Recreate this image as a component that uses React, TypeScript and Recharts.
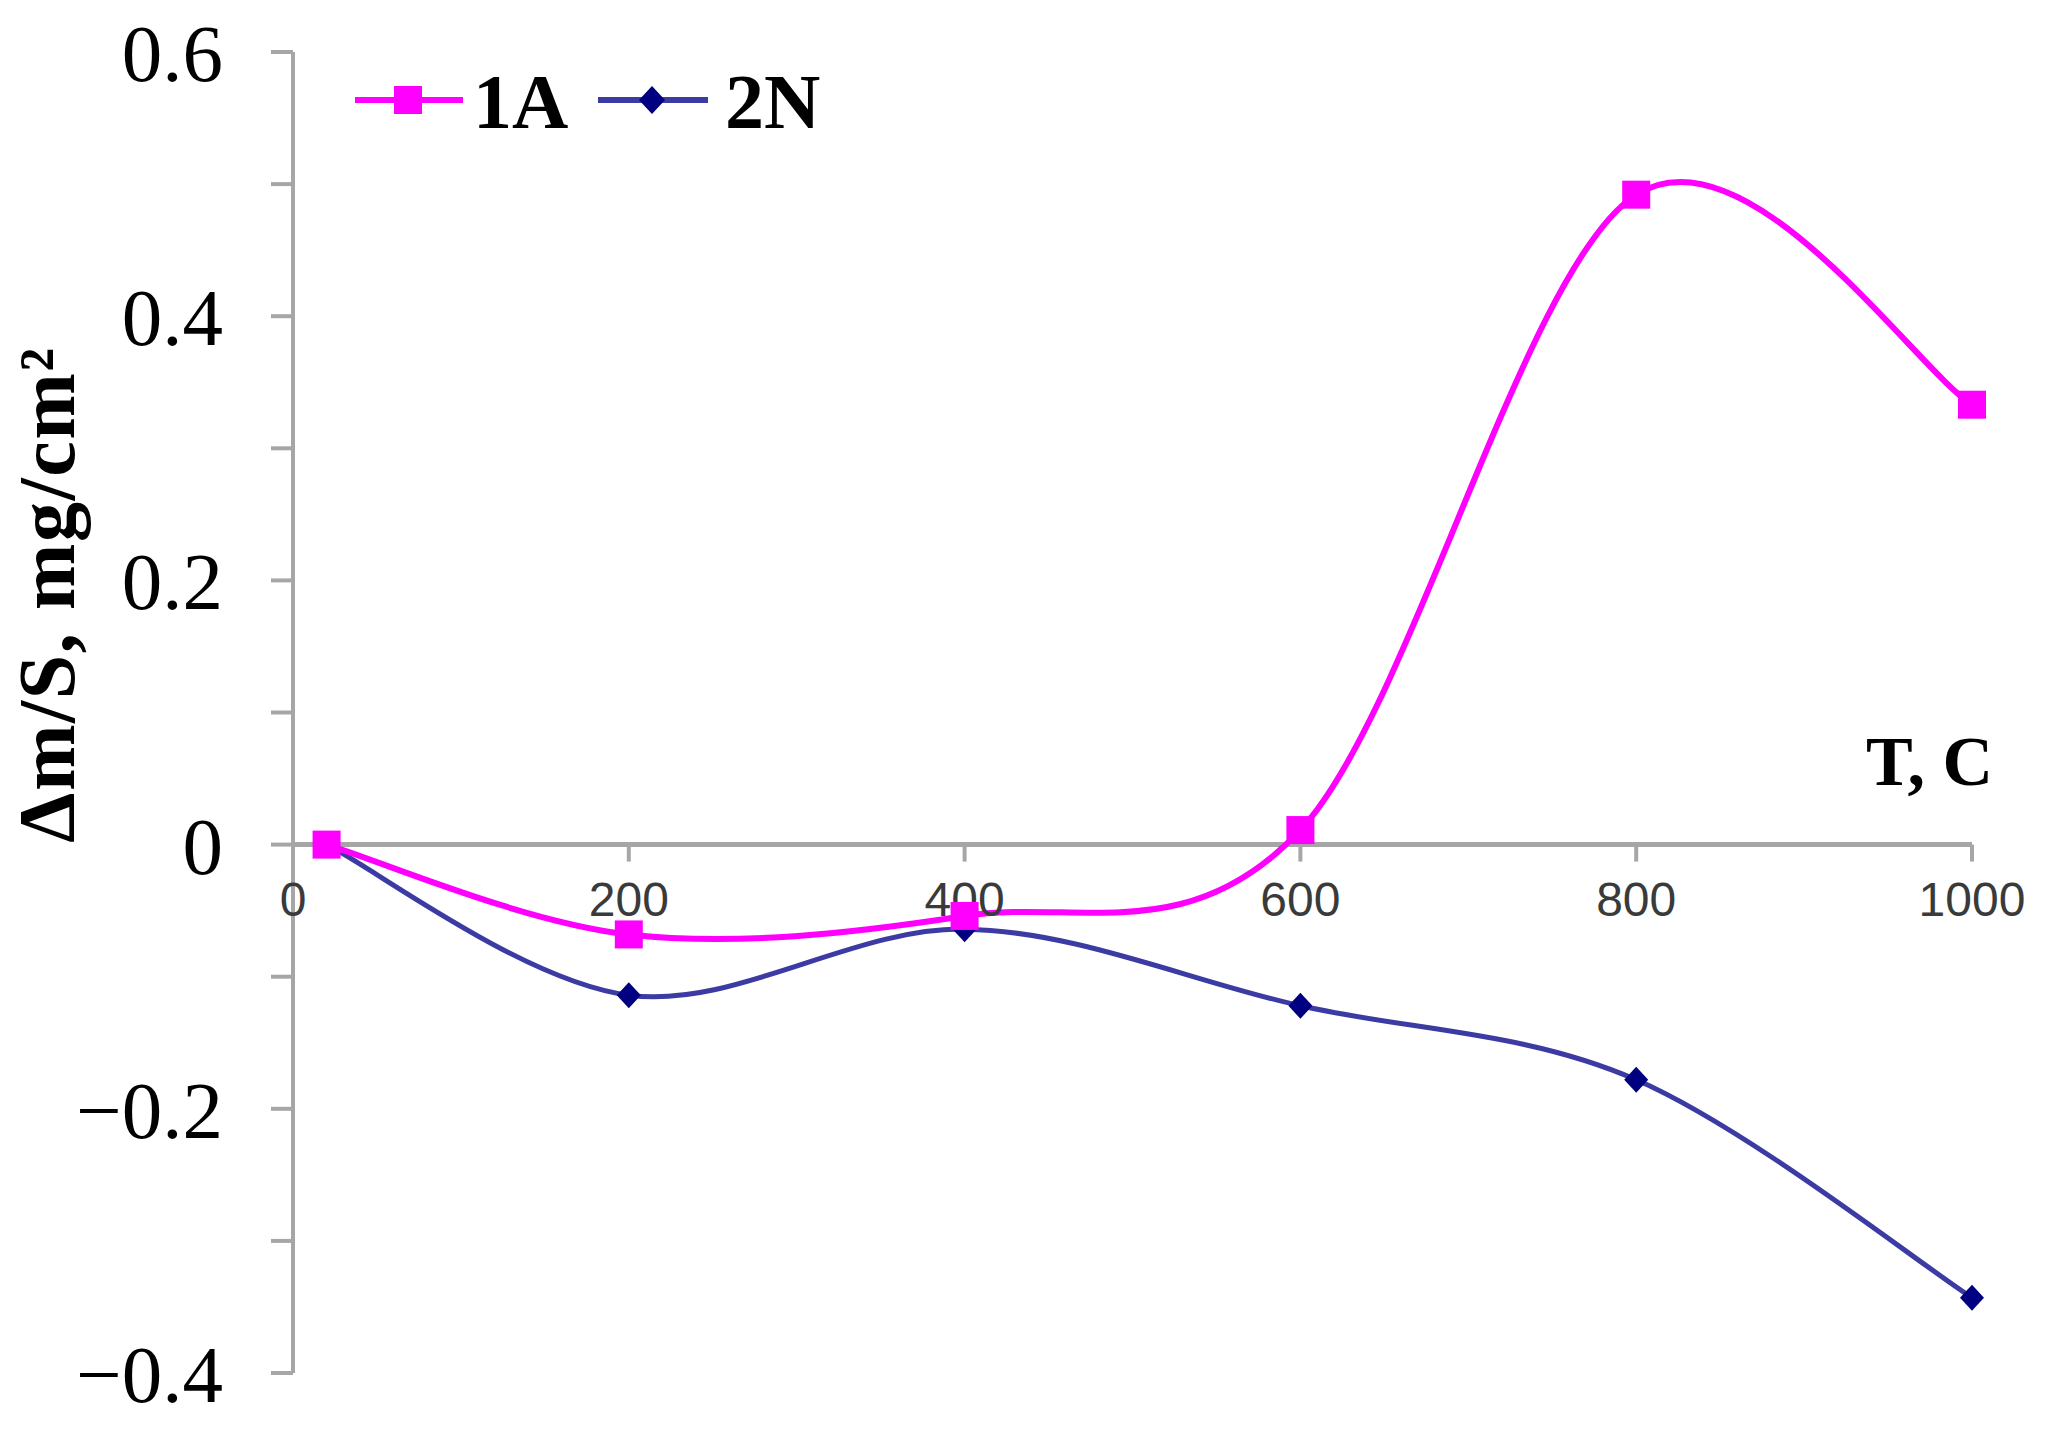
import React from 'react';
import { LineChart, Line, XAxis, YAxis, ReferenceLine, ReferenceDot, Legend } from 'recharts';

// ---- data ----
const temps = [20, 200, 400, 600, 800, 1000];
const series1A = [0, -0.068, -0.054, 0.011, 0.492, 0.333];
const series2N = [0, -0.114, -0.064, -0.122, -0.178, -0.343];
const seriesNames = ['1A', '2N'];
const lineColors = ['#FF00FF', '#3B3BA3'];
const markerColors = ['#FF00FF', '#000080'];
const xTicks = [0, 200, 400, 600, 800, 1000];
const yTicks = [-0.4, -0.3, -0.2, -0.1, 0, 0.1, 0.2, 0.3, 0.4, 0.5, 0.6];
const yTickLabels = ['\u22120.4', '', '\u22120.2', '', '0', '', '0.2', '', '0.4', '', '0.6'];
const xTitle = 'T, C';
const yTitle = '\u0394m/S, mg/cm\u00B2';

const data = temps.map((t, i) => ({ t, a: series1A[i], n: series2N[i] }));

const SERIF = '"Liberation Serif", "Times New Roman", serif';
const SANS = '"Liberation Sans", Arial, sans-serif';
const AXIS_GRAY = '#A6A6A6';

// Excel-like smoothed line (Catmull-Rom as cubic Bezier)
const excelSmooth: any = (context: any) => {
  let pts: number[][] = [];
  return {
    areaStart() {},
    areaEnd() {},
    lineStart() {
      pts = [];
    },
    point(x: number, y: number) {
      pts.push([+x, +y]);
    },
    lineEnd() {
      const n = pts.length;
      if (n === 0) return;
      context.moveTo(pts[0][0], pts[0][1]);
      for (let i = 0; i < n - 1; i++) {
        const p0 = pts[Math.max(i - 1, 0)];
        const p1 = pts[i];
        const p2 = pts[i + 1];
        const p3 = pts[Math.min(i + 2, n - 1)];
        context.bezierCurveTo(
          p1[0] + (p2[0] - p0[0]) / 6,
          p1[1] + (p2[1] - p0[1]) / 6,
          p2[0] - (p3[0] - p1[0]) / 6,
          p2[1] - (p3[1] - p1[1]) / 6,
          p2[0],
          p2[1]
        );
      }
    },
  };
};

const SquareDot = (p: any) => {
  if (p.cx == null || p.cy == null) return <g key={`s${p.index}`} />;
  return (
    <rect key={`s${p.index}`} x={p.cx - 14} y={p.cy - 14} width={28} height={28} fill={markerColors[0]} />
  );
};

const DiamondDot = (p: any) => {
  if (p.cx == null || p.cy == null) return <g key={`d${p.index}`} />;
  const { cx, cy } = p;
  return (
    <polygon
      key={`d${p.index}`}
      points={`${cx},${cy - 13} ${cx + 12},${cy} ${cx},${cy + 13} ${cx - 12},${cy}`}
      fill={markerColors[1]}
    />
  );
};

const YTick = (props: any) => {
  const { x, y, payload } = props;
  const idx = yTicks.findIndex((v) => Math.abs(v - payload.value) < 1e-9);
  const label = idx >= 0 ? yTickLabels[idx] : '';
  if (!label) return <g />;
  return (
    <text x={x} y={y} dy={29} textAnchor="end" fontFamily={SERIF} fontSize={81} fill="#000">
      {label}
    </text>
  );
};

const YTitle = (props: any) => {
  const vb = props.viewBox || { x: 0, y: 52, width: 293, height: 1321 };
  const x = vb.x + 74;
  const y = vb.y + vb.height / 2 - 118;
  return (
    <text
      x={x}
      y={y}
      transform={`rotate(-90, ${x}, ${y})`}
      textAnchor="middle"
      fontFamily={SERIF}
      fontWeight="bold"
      fontSize={80}
      letterSpacing={1.5}
      fill="#000"
    >
      {yTitle}
    </text>
  );
};

const XTitle = (props: any) => {
  const vb = props.viewBox || { x: 293, y: 845, width: 1679, height: 0 };
  return (
    <text
      x={vb.x + vb.width + 21}
      y={vb.y - 60}
      textAnchor="end"
      fontFamily={SERIF}
      fontWeight="bold"
      fontSize={70}
      fill="#000"
    >
      {xTitle}
    </text>
  );
};

const LegendBox = () => (
  <svg width={480} height={80} style={{ display: 'block', overflow: 'visible' }}>
    <line x1={0} y1={40} x2={108} y2={40} stroke={lineColors[0]} strokeWidth={6} />
    <rect x={53 - 14} y={40 - 14} width={28} height={28} fill={markerColors[0]} />
    <text x={118} y={68} fontFamily={SERIF} fontWeight="bold" fontSize={78} fill="#000">
      {seriesNames[0]}
    </text>
    <line x1={243} y1={40} x2={353} y2={40} stroke={lineColors[1]} strokeWidth={6} />
    <polygon points={`297,26 310,40 297,54 284,40`} fill={markerColors[1]} />
    <text x={370} y={68} fontFamily={SERIF} fontWeight="bold" fontSize={78} fill="#000">
      {seriesNames[1]}
    </text>
  </svg>
);

export default function App() {
  return (
    <div style={{ position: 'absolute', left: 0, top: 0, background: '#fff' }}>
      <LineChart
        width={2045}
        height={1430}
        data={data}
        margin={{ top: 52, right: 73, bottom: 57, left: 0 }}
      >
        <XAxis dataKey="t" type="number" domain={[0, 1000]} ticks={xTicks} hide />
        <YAxis
          type="number"
          domain={[-0.4, 0.6]}
          ticks={yTicks}
          interval={0}
          width={293}
          tick={<YTick />}
          tickSize={22}
          tickMargin={48}
          axisLine={{ stroke: AXIS_GRAY, strokeWidth: 4 }}
          tickLine={{ stroke: AXIS_GRAY, strokeWidth: 4 }}
          label={<YTitle />}
        />
        <ReferenceLine y={0} stroke={AXIS_GRAY} strokeWidth={5} label={<XTitle />} />
        {xTicks.map((t) => (
          <ReferenceDot
            key={`xt${t}`}
            x={t}
            y={0}
            r={0}
            ifOverflow="visible"
            shape={(p: any) => (
              <g>
                <line x1={p.cx} y1={p.cy} x2={p.cx} y2={p.cy + 17} stroke={AXIS_GRAY} strokeWidth={4} />
                <text
                  x={p.cx}
                  y={p.cy + 71}
                  textAnchor="middle"
                  fontFamily={SANS}
                  fontSize={48}
                  fill="#3a3a3a"
                >
                  {t}
                </text>
              </g>
            )}
          />
        ))}
        <Legend
          layout="horizontal"
          verticalAlign="middle"
          align="center"
          wrapperStyle={{ position: 'absolute', left: 355, top: 60, width: 480, height: 80 }}
          content={() => <LegendBox />}
        />
        <Line
          dataKey="n"
          name={seriesNames[1]}
          type={excelSmooth}
          stroke={lineColors[1]}
          strokeWidth={5}
          dot={DiamondDot}
          activeDot={false}
          isAnimationActive={false}
        />
        <Line
          dataKey="a"
          name={seriesNames[0]}
          type={excelSmooth}
          stroke={lineColors[0]}
          strokeWidth={6}
          dot={SquareDot}
          activeDot={false}
          isAnimationActive={false}
        />
      </LineChart>
    </div>
  );
}
